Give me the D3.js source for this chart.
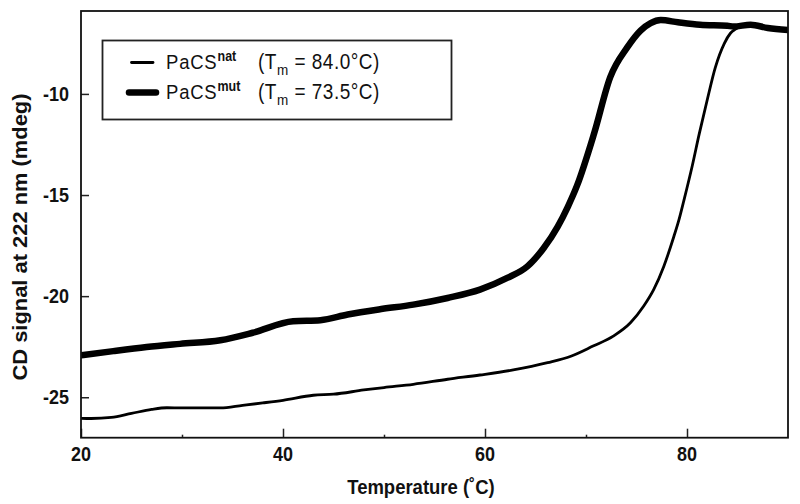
<!DOCTYPE html>
<html>
<head>
<meta charset="utf-8">
<script src="https://cdn.jsdelivr.net/npm/d3@7"></script>
<style>
  html, body { margin: 0; padding: 0; background: #fff; }
  svg { display: block; }
  text { font-family: "Liberation Sans", Arial, sans-serif; fill: #111; }
</style>
</head>
<body>
<svg id="chart" width="800" height="504"></svg>
<script>
// ---- data ----
const natTemp = [20, 21, 23, 25, 27, 28.5, 30, 33.8, 36, 38, 40, 43, 45, 48, 50, 52.9, 56.3, 59.5, 62.8, 66.2, 68.5, 70.7, 72.7, 74.4, 75.7, 76.7, 77.7, 78.7, 79.2, 79.7, 80.5, 81.2, 82.0, 82.8, 83.7, 84.3, 84.8, 85.5, 86.3, 87.5, 88.5, 90];
const natSignal = [-26.04, -26.05, -26.0, -25.8, -25.6, -25.52, -25.53, -25.53, -25.4, -25.28, -25.15, -24.9, -24.85, -24.64, -24.52, -24.36, -24.11, -23.9, -23.65, -23.29, -22.97, -22.47, -21.98, -21.32, -20.5, -19.68, -18.53, -17.05, -16.23, -15.25, -13.6, -12.0, -10.3, -8.7, -7.5, -7.0, -6.8, -6.62, -6.58, -6.7, -6.8, -6.84];

const mutTemp = [20, 23.2, 26.5, 29.8, 33.8, 37, 41, 43.7, 46.4, 49.6, 52.9, 56.3, 59.5, 62.2, 64.2, 65.8, 67.2, 68.2, 69.1, 70.8, 72.4, 74.1, 75.4, 76.4, 77.4, 79.1, 81.3, 84, 84.6, 86.3, 88, 90];
const mutSignal = [-22.93, -22.72, -22.52, -22.36, -22.18, -21.81, -21.24, -21.19, -20.91, -20.65, -20.42, -20.09, -19.68, -19.1, -18.53, -17.63, -16.56, -15.58, -14.55, -11.96, -9.17, -7.69, -6.87, -6.5, -6.35, -6.46, -6.58, -6.63, -6.67, -6.58, -6.74, -6.84];

const xTickValues = [20, 40, 60, 80];
const xMinorTicks = [30, 50, 70];
const yTickValues = [-10, -15, -20, -25];

const seriesNames = ["PaCS", "PaCS"];
const seriesSups = ["nat", "mut"];
const seriesTm = ["84.0", "73.5"];

const xTitle = "Temperature (\u02DAC)";
const yTitle = "CD signal at 222 nm (mdeg)";

// ---- layout ----
const L = 81, R = 788, T = 11, B = 437.7;
const SY = 1.12; // vertical stretch of the lettering in the reference
const svg = d3.select("#chart");

const x = d3.scaleLinear().domain([20, 90]).range([L, R]);
const y = d3.scaleLinear().domain([-27, -5.9]).range([B, T]);
const fmt = d => String(d); // plain hyphen-minus as in the reference

// lines
const natData = natTemp.map((t, i) => [t, natSignal[i]]);
const mutData = mutTemp.map((t, i) => [t, mutSignal[i]]);
const line = d3.line().x(d => x(d[0])).y(d => y(d[1])).curve(d3.curveMonotoneX);

svg.append("clipPath").attr("id", "clip")
  .append("rect").attr("x", L).attr("y", T).attr("width", R - L).attr("height", B - T);

const g = svg.append("g").attr("clip-path", "url(#clip)");
g.append("path").datum(mutData).attr("d", line)
  .attr("fill", "none").attr("stroke", "#000").attr("stroke-width", 6.5)
  .attr("stroke-linejoin", "round").attr("stroke-linecap", "round");
g.append("path").datum(natData).attr("d", line)
  .attr("fill", "none").attr("stroke", "#000").attr("stroke-width", 2.8)
  .attr("stroke-linejoin", "round").attr("stroke-linecap", "round");

// axes (ticks pointing inward)
const xg = svg.append("g").attr("transform", `translate(0,${B})`)
  .call(d3.axisBottom(x).tickValues(xTickValues).tickSizeInner(-9).tickSizeOuter(0).tickFormat(""));
xg.select(".domain").remove();
xg.selectAll("line").attr("stroke", "#222").attr("stroke-width", 1.5);

const xmg = svg.append("g").attr("transform", `translate(0,${B})`)
  .call(d3.axisBottom(x).tickValues(xMinorTicks).tickSizeInner(-3).tickSizeOuter(0).tickFormat(""));
xmg.select(".domain").remove();
xmg.selectAll("line").attr("stroke", "#222").attr("stroke-width", 1.5);

const yg = svg.append("g").attr("transform", `translate(${L},0)`)
  .call(d3.axisLeft(y).tickValues(yTickValues).tickSizeInner(-8).tickSizeOuter(0).tickFormat(""));
yg.select(".domain").remove();
yg.selectAll("line").attr("stroke", "#222").attr("stroke-width", 1.5);

// tick labels positioned through the scales
svg.append("g").selectAll("text").data(xTickValues).join("text")
  .attr("transform", d => `translate(${x(d)},461) scale(1,${SY})`)
  .attr("text-anchor", "middle").attr("font-size", 18).attr("font-weight", "bold")
  .text(fmt);
svg.append("g").selectAll("text").data(yTickValues).join("text")
  .attr("transform", d => `translate(69,${y(d) + 7}) scale(1,${SY})`)
  .attr("text-anchor", "end").attr("font-size", 18).attr("font-weight", "bold")
  .text(fmt);

// frame
svg.append("rect").attr("x", L).attr("y", T).attr("width", R - L).attr("height", B - T)
  .attr("fill", "none").attr("stroke", "#111").attr("stroke-width", 1.8);

// axis titles
svg.append("text").attr("transform", `translate(421,494) scale(1,${SY})`).attr("text-anchor", "middle")
  .attr("font-size", 18.5).attr("font-weight", "bold").text(xTitle);
svg.append("text").attr("transform", "translate(27,237) rotate(-90)").attr("text-anchor", "middle")
  .attr("font-size", 20).attr("font-weight", "bold")
  .attr("textLength", 287).attr("lengthAdjust", "spacingAndGlyphs").text(yTitle);

// legend
const lg = svg.append("g");
lg.append("rect").attr("x", 102.5).attr("y", 40.5).attr("width", 349).attr("height", 79)
  .attr("fill", "#fff").attr("stroke", "#222").attr("stroke-width", 1.8);
const rowY = [62.5, 92.5];
const rowW = [2.8, 6.5];
const rowX = [[131.5, 153], [129, 156]];
seriesNames.forEach((name, i) => {
  lg.append("line").attr("x1", rowX[i][0]).attr("x2", rowX[i][1])
    .attr("y1", rowY[i]).attr("y2", rowY[i])
    .attr("stroke", "#000").attr("stroke-width", rowW[i]).attr("stroke-linecap", "round");
  const t = lg.append("text").attr("transform", `translate(166,${rowY[i] + 6.5}) scale(1,${SY})`)
    .attr("font-size", 18.5).attr("letter-spacing", 0.8);
  t.append("tspan").text(name);
  t.append("tspan").attr("font-size", 12.5).attr("font-weight", "bold").attr("dy", -7.5).attr("letter-spacing", 0).text(seriesSups[i]);
  const t2 = lg.append("text").attr("transform", `translate(258,${rowY[i] + 6.5}) scale(1,${SY})`)
    .attr("font-size", 19).attr("letter-spacing", 0.5);
  t2.append("tspan").text("(T");
  t2.append("tspan").attr("font-size", 13.5).attr("dy", 5.5).text("m");
  t2.append("tspan").attr("dy", -5.5).text(" = " + seriesTm[i] + "\u00B0C)");
});
</script>
</body>
</html>
